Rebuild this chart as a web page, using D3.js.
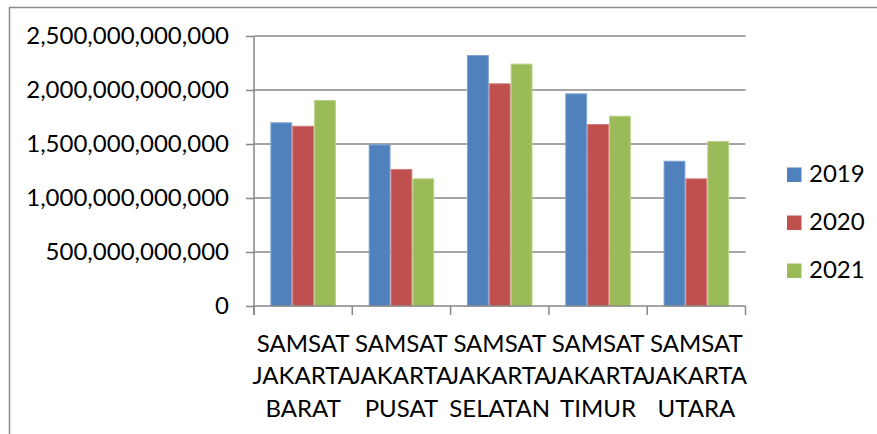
<!DOCTYPE html>
<html>
<head>
<meta charset="utf-8">
<script src="https://cdn.jsdelivr.net/npm/d3@7"></script>
<style>
  html, body { margin: 0; padding: 0; background: #fff; }
  svg { display: block; }
  text { font-family: Lato, "Noto Sans", sans-serif; fill: #000; }
</style>
</head>
<body>
<svg id="chart" width="877" height="434"></svg>
<script>
// ---- data ----
const categories = ["SAMSAT JAKARTA BARAT", "SAMSAT JAKARTA PUSAT", "SAMSAT JAKARTA SELATAN", "SAMSAT JAKARTA TIMUR", "SAMSAT JAKARTA UTARA"];
const seriesNames = ["2019", "2020", "2021"];
const values2019 = [1.701e12, 1.497e12, 2.324e12, 1.969e12, 1.345e12];
const values2020 = [1.669e12, 1.269e12, 2.062e12, 1.685e12, 1.182e12];
const values2021 = [1.907e12, 1.182e12, 2.244e12, 1.762e12, 1.528e12];
const yTicks = [0, 5e11, 1e12, 1.5e12, 2e12, 2.5e12];
const colors = ["#4F81BD", "#C0504D", "#9BBB59"];
const strokeColors = ["#7EA3D4", "#D47E7C", "#BAD38A"];

const seriesValues = [values2019, values2020, values2021];

const svg = d3.select("#chart");

// outer border (only top & left visible in frame)
svg.append("rect")
  .attr("x", 9.5).attr("y", 7.5)
  .attr("width", 900).attr("height", 500)
  .attr("fill", "none").attr("stroke", "#8c8c8c").attr("stroke-width", 1.5);

const plot = { left: 254, right: 745.5, top: 36, bottom: 306 };

const x0 = d3.scaleBand().domain(categories).range([plot.left, plot.right]).padding(0);
const x1 = d3.scaleBand().domain(seriesNames).range([0, x0.bandwidth()]).paddingInner(0).paddingOuter(0.75);
const y = d3.scaleLinear().domain([0, 2.5e12]).range([plot.bottom, plot.top]);

const gridColor = "#878787";

// gridlines
svg.append("g").selectAll("line").data(yTicks.slice(1)).join("line")
  .attr("x1", plot.left).attr("x2", plot.right)
  .attr("y1", d => y(d)).attr("y2", d => y(d))
  .attr("stroke", gridColor).attr("stroke-width", 1.5);

// bars
const groups = svg.append("g").selectAll("g").data(categories).join("g")
  .attr("transform", c => `translate(${x0(c)},0)`);
groups.selectAll("rect").data((c, ci) => seriesNames.map((s, si) => ({ s, si, v: seriesValues[si][ci] })))
  .join("rect")
  .attr("x", d => x1(d.s) + 0.5)
  .attr("width", x1.bandwidth() - 1)
  .attr("y", d => y(d.v) + 0.5)
  .attr("height", d => y(0) - y(d.v) - 0.5)
  .attr("fill", d => colors[d.si])
  .attr("stroke", d => strokeColors[d.si])
  .attr("stroke-width", 1);

// y axis
const fmt = d3.format(",.0f");
const yAxis = d3.axisLeft(y).tickValues(yTicks).tickSize(8).tickPadding(17)
  .tickFormat(d => fmt(d));
const gy = svg.append("g").attr("transform", `translate(${plot.left},0)`).call(yAxis);
gy.select(".domain").remove();
gy.selectAll(".tick line").attr("stroke", gridColor).attr("stroke-width", 1.5);
gy.selectAll(".tick text").attr("font-size", 24).attr("font-family", "Lato").attr("fill", "#000");
svg.append("line").attr("x1", plot.left).attr("x2", plot.left)
  .attr("y1", plot.top).attr("y2", plot.bottom + 9)
  .attr("stroke", gridColor).attr("stroke-width", 1.5);

// x axis line and ticks at category boundaries
svg.append("line").attr("x1", plot.left).attr("x2", plot.right)
  .attr("y1", plot.bottom).attr("y2", plot.bottom)
  .attr("stroke", gridColor).attr("stroke-width", 1.5);
const bounds = categories.map(c => x0(c)).concat([x0(categories[categories.length - 1]) + x0.bandwidth()]);
svg.append("g").selectAll("line").data(bounds).join("line")
  .attr("x1", d => d).attr("x2", d => d)
  .attr("y1", plot.bottom).attr("y2", plot.bottom + 9)
  .attr("stroke", gridColor).attr("stroke-width", 1.5);

// category labels
const lineBaselines = [351.5, 384, 416.5];
const labels = svg.append("g").selectAll("text").data(categories).join("text")
  .attr("text-anchor", "middle").attr("font-size", 24)
  .attr("transform", c => `translate(${x0(c) + x0.bandwidth() / 2},0)`);
labels.selectAll("tspan").data(c => c.split(" ")).join("tspan")
  .attr("x", 0).attr("y", (d, i) => lineBaselines[i]).text(d => d);

// legend
const legend = svg.append("g").selectAll("g").data(seriesNames).join("g")
  .attr("transform", (d, i) => `translate(787,${167.5 + i * 48})`);
legend.append("rect").attr("width", 14.5).attr("height", 14.5).attr("fill", (d, i) => colors[i]);
legend.append("text").attr("x", 22).attr("y", 14.3).attr("font-size", 24).text(d => d);
</script>
</body>
</html>
